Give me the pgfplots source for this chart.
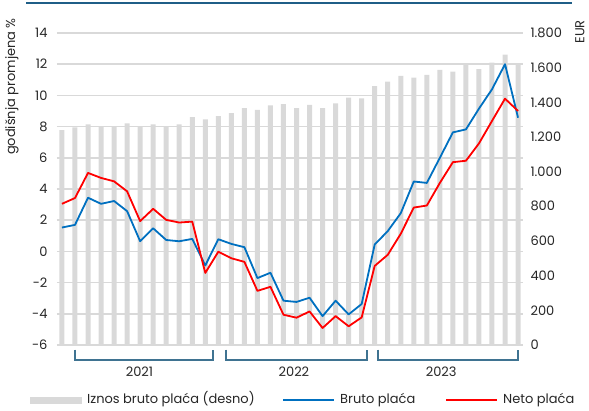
\documentclass[border=0pt]{standalone}
\usepackage{fontspec}
\setmainfont{Poppins}
\usepackage{pgfplots}
\usepackage{pgfplotstable}
\pgfplotsset{compat=1.18}

\definecolor{barc}{HTML}{D9D9D9}
\definecolor{blu}{HTML}{0070C0}
\definecolor{rd}{HTML}{FF0000}
\definecolor{brk}{HTML}{3F7391}
\definecolor{topl}{HTML}{1F5E87}
\definecolor{txt}{HTML}{262626}

% x = month index (36 bars)
\pgfplotstableread{
x  eur   bruto  neto
0  1240   1.53   3.05
1  1256   1.70   3.42
2  1273   3.44   5.03
3  1259   3.05   4.71
4  1259   3.23   4.49
5  1279   2.58   3.85
6  1259   0.65   1.94
7  1273   1.48   2.73
8  1263   0.73   2.02
9  1273   0.65   1.85
10 1314   0.80   1.91
11 1302  -0.90  -1.38
12 1321   0.78  -0.02
13 1337   0.48  -0.44
14 1367   0.27  -0.67
15 1356  -1.71  -2.53
16 1383  -1.37  -2.27
17 1390  -3.16  -4.06
18 1366  -3.24  -4.25
19 1385  -2.97  -3.85
20 1366  -4.15  -4.91
21 1394  -3.16  -4.15
22 1427  -4.04  -4.80
23 1423  -3.37  -4.23
24 1494   0.44  -0.93
25 1519   1.30  -0.22
26 1552   2.45   1.13
27 1542   4.48   2.81
28 1558   4.39   2.94
29 1587   6.00   4.39
30 1577   7.63   5.72
31 1615   7.82   5.81
32 1592   9.15   6.92
33 1629  10.39   8.36
34 1675  12.00   9.79
35 1615   8.57   9.00
}\data

\pgfplotsset{
  base/.style={
    at={(57pt,66pt)}, anchor=south west,
    scale only axis, width=466pt, height=312pt,
    xmin=-0.38, xmax=35.38,
    axis x line=none,
    y axis line style={draw=none},
    ytick style={draw=none},
    /pgf/number format/assume math mode=true,
    /pgf/number format/1000 sep={.},
    scaled y ticks=false,
    clip=false,
  }
}

\begin{document}
\begin{tikzpicture}[font=\fontsize{13}{15}\selectfont]
\path[use as bounding box] (0,0) rectangle (589pt,411pt);

% right axis: amounts
\begin{axis}[base,
  axis y line*=right,
  ymin=0, ymax=1800,
  ytick={0,200,...,1800},
  yticklabel style={anchor=west, text=txt, xshift=4pt},
]
\addplot[ybar, bar width=5pt, fill=barc, draw=none] table[x=x, y=eur] {\data};
\end{axis}

% left axis: annual change
\begin{axis}[base,
  axis y line*=left,
  ymin=-6, ymax=14,
  ytick={-6,-4,...,14},
  ymajorgrids,
  grid style={barc, line width=1.5pt},
  yticklabel style={anchor=east, text=txt, xshift=-6pt},
]
\addplot[blu, line width=1.8pt, line join=round] table[x=x, y=bruto] {\data};
\addplot[rd, line width=1.8pt, line join=round] table[x=x, y=neto] {\data};

\draw[brk, line width=1.2pt] (axis cs:1,-6.3) -- (axis cs:1,-6.96) -- (axis cs:11.59,-6.96) -- (axis cs:11.59,-6.3);
\draw[brk, line width=1.2pt] (axis cs:12.59,-6.3) -- (axis cs:12.59,-6.96) -- (axis cs:23.41,-6.96) -- (axis cs:23.41,-6.3);
\draw[brk, line width=1.2pt] (axis cs:24.25,-6.3) -- (axis cs:24.25,-6.96) -- (axis cs:35,-6.96) -- (axis cs:35,-6.3);
\node[text=txt] at (axis cs:5.95,-7.7) {2021};
\node[text=txt] at (axis cs:17.8,-7.7) {2022};
\node[text=txt] at (axis cs:29.1,-7.7) {2023};
\end{axis}

% top rule
\draw[topl, line width=1.5pt] (26pt,408pt) -- (572pt,408pt);

% axis titles
\node[rotate=90, anchor=north east, inner sep=0pt, text=txt] at (5pt,393pt) {godišnja promjena \%};
\node[rotate=90, anchor=north east, inner sep=0pt, text=txt] at (575pt,391pt) {EUR};

% legend
\fill[barc] (30pt,7pt) rectangle (82pt,14pt);
\node[anchor=base west, inner sep=0pt, text=txt] at (87pt,7pt) {Iznos bruto plaća (desno)};
\draw[blu, line width=1.8pt] (283pt,11pt) -- (334pt,11pt);
\node[anchor=base west, inner sep=0pt, text=txt] at (340pt,7pt) {Bruto plaća};
\draw[rd, line width=1.8pt] (446pt,11pt) -- (497pt,11pt);
\node[anchor=base west, inner sep=0pt, text=txt] at (503pt,7pt) {Neto plaća};
\end{tikzpicture}
\end{document}
